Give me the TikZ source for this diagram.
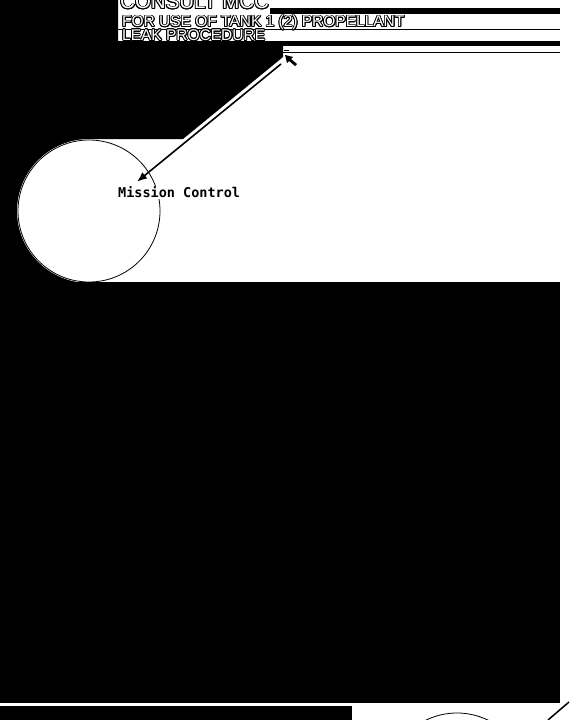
\documentclass[tikz,border=0pt]{standalone}
\usepackage{fontspec}
\setmainfont{Liberation Sans}
\newfontfamily\monofont{DejaVu Sans Mono}
\usepackage{contour}
\contourlength{0.9pt}
\usetikzlibrary{arrows.meta,positioning}

\tikzset{
  hdrtext/.style={anchor=base west, inner sep=0pt, text=white, font=\fontsize{15.5}{16}\selectfont},
  ring/.style={draw, circle, minimum size=142pt, inner sep=0pt, line width=0.8pt},
}

\begin{document}
\begin{tikzpicture}[x=1pt,y=-1pt]
  \useasboundingbox (0,0) rectangle (576,720);
  % Dark background
  \fill (0,0) -- (118,0) -- (118,46) -- (283,46) -- (283,57) -- (183,139) -- (89,139)
    arc[start angle=90, end angle=270, radius=72pt] -- (0,283) -- cycle;
  \fill (0,282) rectangle (560,703);
  \fill (0,706) rectangle (352,720);
  % Header bars
  \fill (270,8) rectangle (560,14);
  \fill (118,41) rectangle (560,46);
  \draw[line width=1.2pt] (118,29.2) -- (560,29.2);
  \draw[line width=1.2pt] (283,52.3) -- (560,52.3);
  % Header text
  \node[hdrtext, font=\fontsize{20.5}{21}\selectfont] (consult) at (120,9) {\contour{black}{CONSULT MCC}};
  \node[hdrtext] (tankuse) at (122,27) {\contour{black}{FOR USE OF TANK 1 (2) PROPELLANT}};
  \node[hdrtext] (leakproc) at (122,40.5) {\contour{black}{LEAK PROCEDURE}};
  % Mouse pointer
  \fill (285,55) -- (293,57) -- (291,59) -- (297,64) -- (295,66) -- (289,61) -- (287,63) -- cycle;
  \draw[line width=0.8pt] (284,50) -- (289,50);
  \coordinate (cursor) at (281,64);
  % Mission Control
  \node[ring] (mcc) at (89,211) {};
  \node[font=\monofont\bfseries\fontsize{13.5}{14}\selectfont, fill=white, inner sep=1pt, anchor=west] (mcclbl) at (117,192.5) {Mission Control};
  \draw[line width=1.6pt, -{Latex[length=10pt,width=8pt]}] (cursor) -- ([xshift=20pt,yshift=4pt]mcclbl.north west);
  % Next station, bottom right
  \node[ring] (nextring) at (457,784) {};
  \coordinate (nextfrom) at (569,702);
  \coordinate (nextto) at (548,720);
  \draw[line width=1.5pt] (nextfrom) -- (nextto);
\end{tikzpicture}
\end{document}
